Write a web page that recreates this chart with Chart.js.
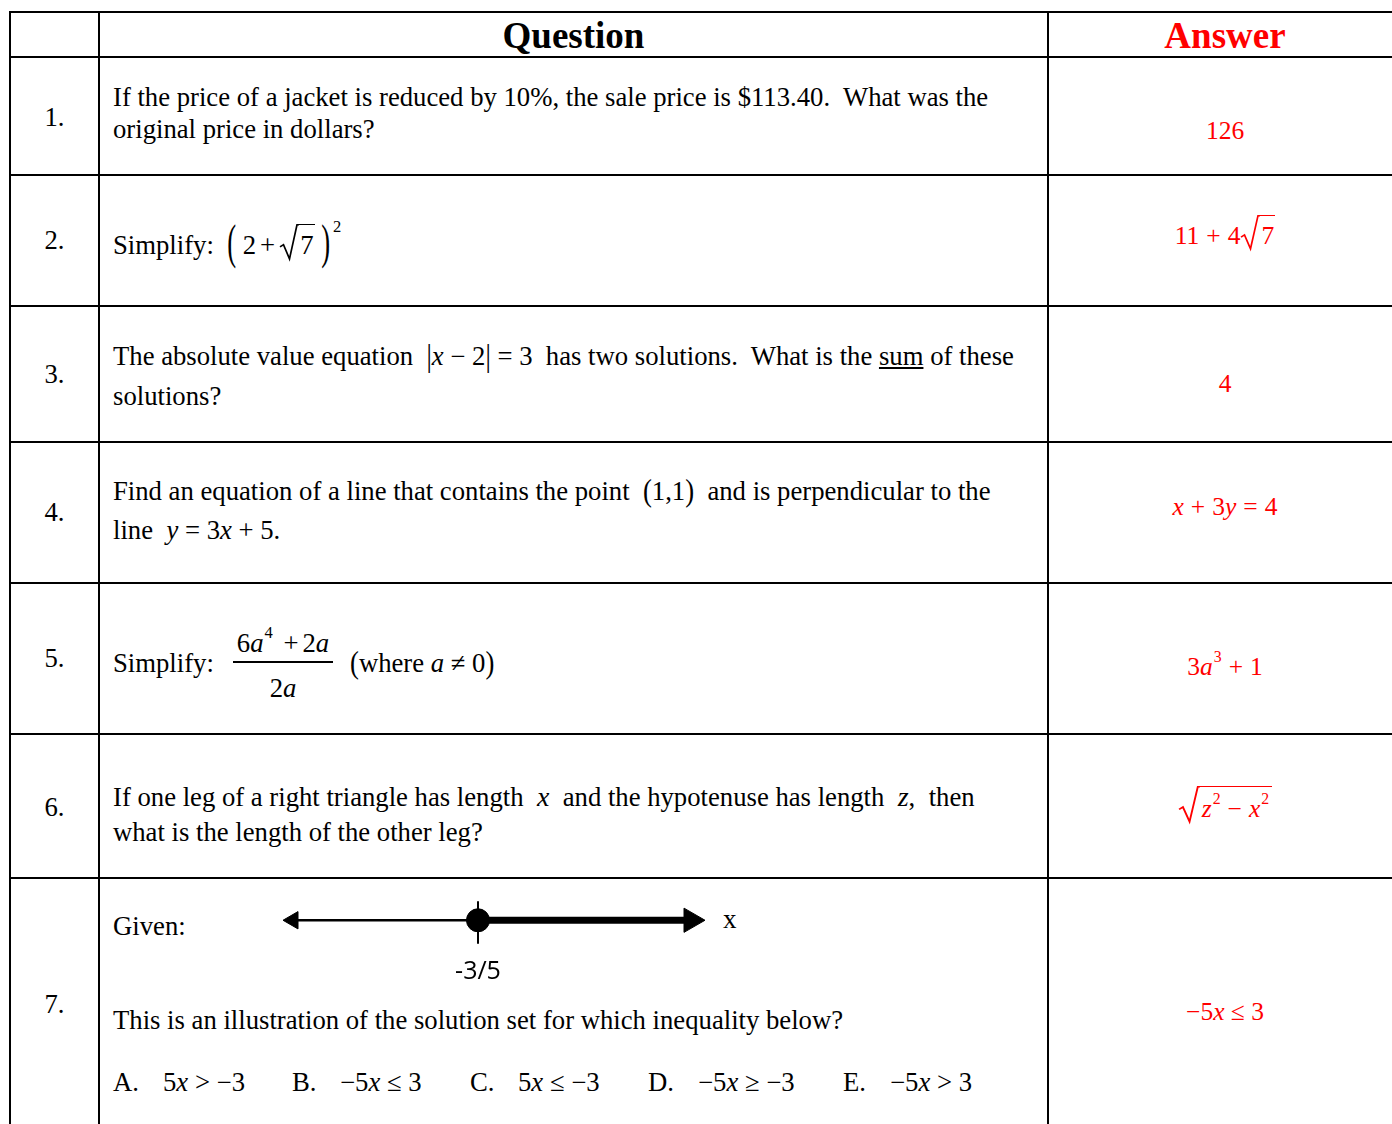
<!DOCTYPE html>
<html>
<head>
<meta charset="utf-8">
<script src="https://cdn.jsdelivr.net/npm/chart.js@4/dist/chart.umd.min.js"></script>
<style>
body{margin:0;background:#fff;width:1392px;height:1124px;overflow:hidden;position:relative;font-family:"Liberation Serif","Times New Roman",serif;color:#000}
.h{position:absolute;background:#000;height:2px}
.v{position:absolute;background:#000;width:2px}
.t{position:absolute;white-space:pre;font-size:26.7px;line-height:32px}
.num{position:absolute;left:10px;width:89px;text-align:center;font-size:26.7px;line-height:32px}
.ans{position:absolute;left:1048px;width:354px;text-align:center;font-size:25.5px;line-height:32px;color:#f00;white-space:pre}
.head{position:absolute;font-weight:bold;font-size:37px;line-height:40px;text-align:center}
.paren{display:inline-block;transform:scale(1,1.8);transform-origin:50% 62%}
.par2{display:inline-block;transform:scale(1,1.2);transform-origin:50% 62%}
.big{display:inline-block;transform:scale(1,1.15);transform-origin:50% 62%}
.sq{display:inline-block;position:relative;padding-left:18px;line-height:1;margin-top:-14px}
.sq svg{position:absolute;left:0;top:0;width:20px;height:100%;overflow:visible}
.sqc{display:inline-block;border-top:1.6px solid currentColor;padding:7px 1px 2px 3px;line-height:1}
.tall{padding-left:20px}
.tall svg{width:22px}
.tall .sqc{padding:9px 3px 2px 4px}
.op{margin:0 4px}
.ans .op{margin:0 7px}
sup{font-size:62%;vertical-align:0.85em;line-height:0;margin-left:1px}
sup.hi{vertical-align:1.3em;margin-left:3px}
i{font-style:italic}
.frac{position:absolute;text-align:center;font-size:26.7px;line-height:32px;white-space:pre}
#nl{position:absolute;left:263px;top:880px}
</style>
</head>
<body>
<div id="grid"></div>
<div id="cells"></div>
<div id="nl"><canvas id="numberLine" width="458" height="104"></canvas></div>
<script>
function root(inner, cls){
    return '<span class="sq ' + (cls || '') + '"><svg viewBox="0 0 20 40" preserveAspectRatio="none"><path d="M1 25 L4.5 22.5 L10.5 38 L18 0.8 L20 0.8" fill="none" stroke="currentColor" stroke-width="1.7"/></svg><span class="sqc">' + inner + '</span></span>';
}

// table content
const headers = ['Question', 'Answer'];
const rowLabels = ['1.', '2.', '3.', '4.', '5.', '6.', '7.'];
const questionLines = [
    ['If the price of a jacket is reduced by 10%, the sale price is $113.40.  What was the', 'original price in dollars?'],
    ['Simplify:  <span class="paren">(</span> 2<span class="op">+</span>' + root('7') + ' <span class="paren">)</span><sup class="hi">2</sup>'],
    ['The absolute value equation  <span class="big">|</span><i>x</i> − 2<span class="big">|</span> = 3  has two solutions.  What is the <u>sum</u> of these', 'solutions?'],
    ['Find an equation of a line that contains the point  <span class="par2">(</span>1,1<span class="par2">)</span>  and is perpendicular to the', 'line  <i>y</i> = 3<i>x</i> + 5.'],
    ['Simplify:'],
    ['If one leg of a right triangle has length  <i style="font-size:28px">x</i>  and the hypotenuse has length  <i style="font-size:28px">z</i>,  then', 'what is the length of the other leg?'],
    ['Given:', 'This is an illustration of the solution set for which inequality below?']
];
const answers = [
    '126',
    '11<span class="op">+</span>4' + root('7'),
    '4',
    '<i>x</i><span class="op">+</span>3<i>y</i><span class="op">=</span>4',
    '3<i>a</i><sup>3</sup><span class="op">+</span>1',
    root('<i>z</i><sup>2</sup><span class="op">−</span><i>x</i><sup>2</sup>', 'tall'),
    '−5<i>x</i> ≤ 3'
];
const choiceLetters = ['A.', 'B.', 'C.', 'D.', 'E.'];
const choiceTexts = ['5<i>x</i> &gt; −3', '−5<i>x</i> ≤ 3', '5<i>x</i> ≤ −3', '−5<i>x</i> ≥ −3', '−5<i>x</i> &gt; 3'];

// number line values
const lineMin = -2.45;
const lineMax = 1.53;
const solutionPoint = -0.6;
const tickLabel = '-3/5';
const axisName = 'x';

// layout
const rowTops = [12, 57, 175, 306, 442, 583, 734, 878];
const colXs = [9, 98, 1047];
const labelY = [117, 240, 374, 512, 658, 807, 1004];
const lineYs = [[97, 129], [243], [356, 396], [491, 530], [663], [797, 832], [926, 1020]];
const answerY = [131, 236, 384, 507, 667, 809, 1012];
const choiceXs = [[113, 163], [292, 340], [470, 518], [648, 698], [843, 890]];

var grid = document.getElementById('grid');
var cells = document.getElementById('cells');
var html = '';
rowTops.forEach(function(y){
    html += '<div class="h" style="left:9px;width:1400px;top:' + (y - 1) + 'px"></div>';
});
colXs.forEach(function(x){
    html += '<div class="v" style="left:' + x + 'px;top:11px;height:1120px"></div>';
});
grid.innerHTML = html;

html = '';
html += '<div class="head" style="left:99px;width:949px;top:16px">' + headers[0] + '</div>';
html += '<div class="head" style="left:1048px;width:354px;top:16px;color:#f00">' + headers[1] + '</div>';
rowLabels.forEach(function(lab, i){
    html += '<div class="num" style="top:' + (labelY[i] - 16) + 'px">' + lab + '</div>';
    questionLines[i].forEach(function(line, j){
        html += '<div class="t" style="left:113px;top:' + (lineYs[i][j] - 16) + 'px">' + line + '</div>';
    });
    html += '<div class="ans" style="top:' + (answerY[i] - 16) + 'px">' + answers[i] + '</div>';
});
// fraction of question 5
html += '<div class="frac" style="left:226px;width:114px;top:627px">6<i>a</i><sup>4</sup> <span class="op">+</span>2<i>a</i></div>';
html += '<div style="position:absolute;left:233px;width:100px;top:661px;height:1.6px;background:#000"></div>';
html += '<div class="frac" style="left:226px;width:114px;top:672px">2<i>a</i></div>';
html += '<div class="t" style="left:350px;top:647px"><span class="big">(</span>where <i>a</i> ≠ 0<span class="big">)</span></div>';
// choices of question 7
choiceLetters.forEach(function(c, k){
    html += '<div class="t" style="left:' + choiceXs[k][0] + 'px;top:1066px">' + c + '</div>';
    html += '<div class="t" style="left:' + choiceXs[k][1] + 'px;top:1066px">' + choiceTexts[k] + '</div>';
});
html += '<div class="t" style="left:723px;top:903px;font-size:27px">' + axisName + '</div>';
cells.innerHTML = html;

// number line of question 7
const config = {
    type: 'scatter',
    data: {
        datasets: [{
            data: [{x: lineMin, y: 0}, {x: solutionPoint, y: 0}],
            showLine: true,
            borderColor: '#000',
            backgroundColor: '#000',
            borderWidth: 2.5,
            pointBorderWidth: 1,
            pointStyle: 'triangle',
            pointRadius: [10, 0],
            pointRotation: [-90, 0],
            clip: false
        }, {
            data: [{x: solutionPoint, y: 0}, {x: lineMax, y: 0}],
            showLine: true,
            borderColor: '#000',
            backgroundColor: '#000',
            borderWidth: 7,
            pointBorderWidth: 1,
            pointStyle: 'triangle',
            pointRadius: [0, 14],
            pointRotation: [0, 90],
            clip: false
        }, {
            data: [{x: solutionPoint, y: 0.9}, {x: solutionPoint, y: -1.1}],
            showLine: true,
            borderColor: '#000',
            borderWidth: 2,
            pointRadius: 0,
            clip: false
        }, {
            data: [{x: solutionPoint, y: 0}],
            backgroundColor: '#000',
            borderColor: '#000',
            pointBorderWidth: 1,
            pointRadius: 11.5,
            clip: false
        }]
    },
    options: {
        responsive: false,
        animation: false,
        events: [],
        layout: {
            padding: {top: 19, right: 30, bottom: 0, left: 30}
        },
        scales: {
            x: {
                type: 'linear',
                min: lineMin,
                max: lineMax,
                grid: {display: false, drawTicks: false},
                border: {display: false},
                afterBuildTicks: function(axis){ axis.ticks = [{value: solutionPoint}]; },
                ticks: {
                    autoSkip: false,
                    maxRotation: 0,
                    padding: 15,
                    color: '#000',
                    font: {family: '"Open Sans", sans-serif', size: 25},
                    callback: function(){ return tickLabel; }
                }
            },
            y: {display: false, min: -1, max: 1}
        },
        plugins: {
            legend: {display: false},
            tooltip: {enabled: false}
        }
    }
};
var myChart = new Chart(document.getElementById('numberLine'), config);
</script>
</body>
</html>
